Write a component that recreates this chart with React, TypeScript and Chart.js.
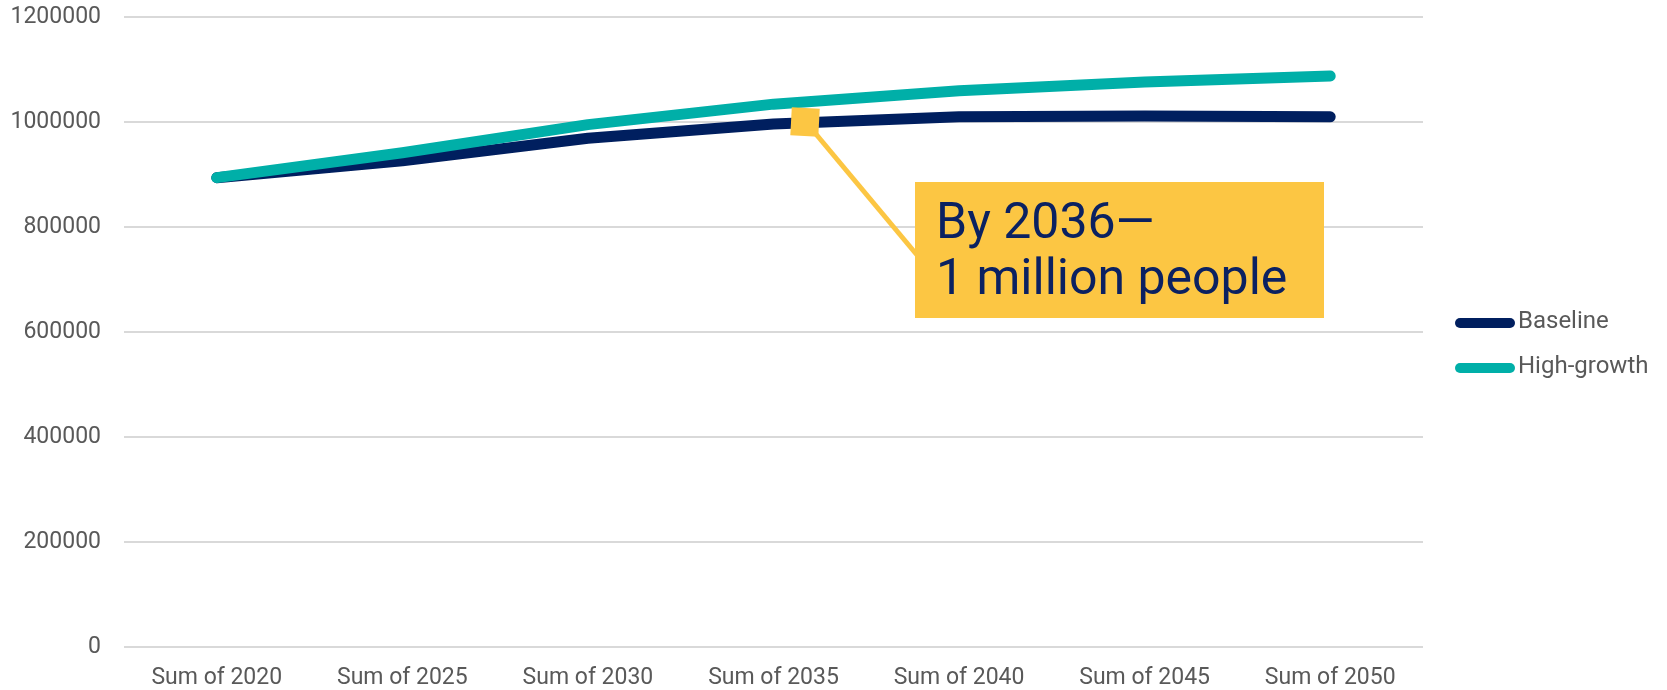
import React, { useEffect, useRef } from "react";
import { Chart, registerables } from "chart.js";

Chart.register(...registerables);

const categories = ["Sum of 2020", "Sum of 2025", "Sum of 2030", "Sum of 2035", "Sum of 2040", "Sum of 2045", "Sum of 2050"];
const baseline = [894000, 926000, 969000, 996000, 1010000, 1011500, 1010000];
const highGrowth = [894000, 941500, 995000, 1034000, 1059500, 1076000, 1087500];
const seriesLabels = ["Baseline", "High-growth"];
const yTicks = [0, 200000, 400000, 600000, 800000, 1000000, 1200000];
const annotationLines = ["By 2036\u2014", "1 million people"];
const annotationIndex = 3.17; // 2036, between "Sum of 2035" and "Sum of 2040"
const annotationValue = 1000000;

const NAVY = "#001F5F";
const TEAL = "#00AFA8";
const YELLOW = "#FCC643";
const TEXT_NAVY = "#0B2161";
const GREY = "#595959";
const FONT = "Roboto, 'Noto Sans', sans-serif";

const annotationPlugin = {
  id: "annotationBox",
  afterDatasetsDraw(chart: any) {
    const ctx = chart.ctx;
    const xs = chart.scales.x;
    const ys = chart.scales.y;
    const cx = xs.getPixelForValue(annotationIndex);
    const cy = ys.getPixelForValue(annotationValue);
    const area = chart.chartArea;
    const boxL = area.left + 791;
    const boxT = area.top + 165;
    const boxW = 409;
    const boxH = 136;
    ctx.save();
    ctx.strokeStyle = YELLOW;
    ctx.lineWidth = 5;
    ctx.beginPath();
    ctx.moveTo(cx + 10, cy + 11);
    ctx.lineTo(boxL + 2, boxT + 73);
    ctx.stroke();
    ctx.translate(cx, cy);
    ctx.rotate((3 * Math.PI) / 180);
    ctx.fillStyle = YELLOW;
    ctx.fillRect(-14, -14, 28, 28);
    ctx.restore();
    ctx.save();
    ctx.fillStyle = YELLOW;
    ctx.fillRect(boxL, boxT, boxW, boxH);
    ctx.fillStyle = TEXT_NAVY;
    ctx.font = `50px ${FONT}`;
    ctx.textBaseline = "alphabetic";
    ctx.textAlign = "left";
    ctx.fillText(annotationLines[0], boxL + 21, boxT + 56);
    ctx.fillText(annotationLines[1], boxL + 21, boxT + 112);
    ctx.restore();
  },
};

const legendPlugin = {
  id: "sideLegend",
  afterDraw(chart: any) {
    const ctx = chart.ctx;
    const area = chart.chartArea;
    const x0 = area.right + 37;
    const y0 = 323;
    const rowGap = 45;
    ctx.save();
    chart.data.datasets.forEach((ds: any, i: number) => {
      const y = y0 + i * rowGap;
      ctx.strokeStyle = ds.borderColor;
      ctx.lineWidth = 10;
      ctx.lineCap = "round";
      ctx.beginPath();
      ctx.moveTo(x0, y);
      ctx.lineTo(x0 + 50, y);
      ctx.stroke();
      ctx.fillStyle = GREY;
      ctx.font = `24px ${FONT}`;
      ctx.textBaseline = "middle";
      ctx.textAlign = "left";
      ctx.fillText(ds.label, x0 + 58, y - 1);
    });
    ctx.restore();
  },
};

export default function App() {
  const ref = useRef<HTMLCanvasElement | null>(null);
  useEffect(() => {
    document.body.style.margin = "0";
    if (!ref.current) return;
    const chart = new Chart(ref.current, {
      type: "line",
      data: {
        labels: categories,
        datasets: [
          {
            label: seriesLabels[0],
            data: baseline,
            borderColor: NAVY,
            backgroundColor: NAVY,
            borderWidth: 11,
            borderCapStyle: "round",
            borderJoinStyle: "round",
            pointRadius: 0,
            tension: 0,
            order: 1,
          },
          {
            label: seriesLabels[1],
            data: highGrowth,
            borderColor: TEAL,
            backgroundColor: TEAL,
            borderWidth: 11,
            borderCapStyle: "round",
            borderJoinStyle: "round",
            pointRadius: 0,
            tension: 0,
            order: 0,
          },
        ],
      },
      options: {
        animation: false,
        responsive: true,
        maintainAspectRatio: false,
        layout: { padding: { top: 17, right: 244, bottom: 0, left: 0 } },
        plugins: {
          legend: { display: false },
          tooltip: { enabled: false },
        },
        scales: {
          x: {
            offset: true,
            grid: { display: false, drawTicks: false },
            border: { display: false },
            ticks: { color: GREY, font: { family: FONT, size: 23 }, padding: 17, maxRotation: 0, autoSkip: false },
            afterFit: (s: any) => { s.height = 43; },
          },
          y: {
            min: 0,
            max: 1200000,
            afterBuildTicks: (s: any) => { s.ticks = yTicks.map((v) => ({ value: v })); },
            grid: { color: "#D9D9D9", lineWidth: 2, drawTicks: false },
            border: { display: false },
            ticks: { color: GREY, font: { family: FONT, size: 23 }, padding: 23, callback: (v: any) => String(v) },
            afterFit: (s: any) => { s.width = 124; s.paddingTop = 0; s.paddingBottom = 0; },
          },
        },
      },
      plugins: [annotationPlugin, legendPlugin],
    });
    return () => chart.destroy();
  }, []);
  return (
    <div style={{ position: "fixed", left: 0, top: 0, width: 1667, height: 690, background: "#fff" }}>
      <canvas ref={ref} />
    </div>
  );
}
